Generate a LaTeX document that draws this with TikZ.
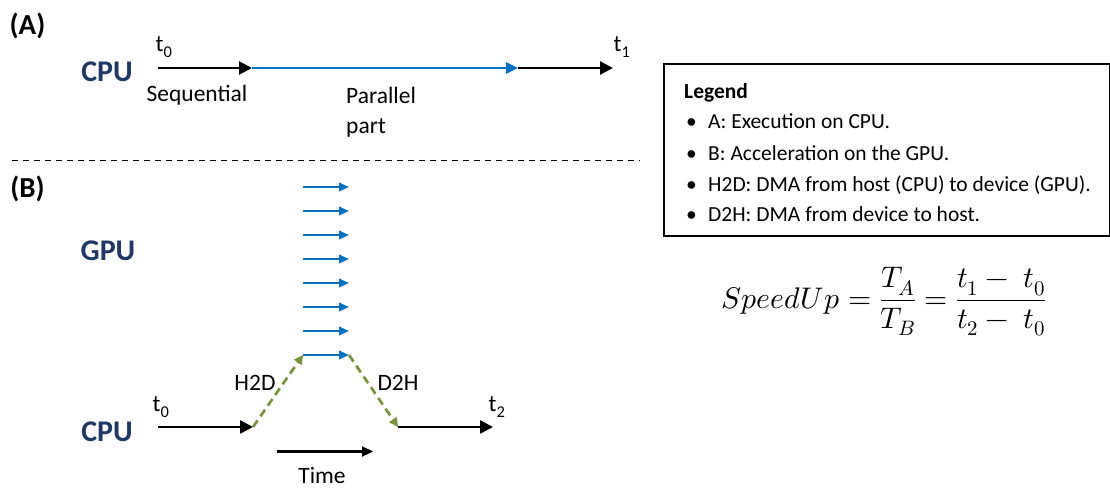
\documentclass[tikz,border=0pt]{standalone}
\usepackage{fontspec}
\usepackage{unicode-math}
\setmainfont{Carlito}
\setmathfont{Latin Modern Math}
\usetikzlibrary{arrows.meta}

\definecolor{navy}{HTML}{1F3864}
\definecolor{runblue}{HTML}{0070C0}
\definecolor{dmagreen}{HTML}{77933C}

\begin{document}
\begin{tikzpicture}[x=1pt,y=-1pt,
  panel/.style={font=\fontsize{29}{31}\selectfont\bfseries, inner sep=0pt},
  proc/.style={font=\fontsize{30}{32}\selectfont\bfseries, text=navy, inner sep=0pt},
  lbl/.style={font=\fontsize{23.5}{28}\selectfont, inner sep=0pt},
  tlbl/.style={font=\fontsize{23.5}{28}\selectfont, inner sep=0pt},
  legtxt/.style={font=\fontsize{21.5}{24}\selectfont, inner sep=0pt, anchor=base west},
  seq/.style={line width=2.5pt, -{Triangle[length=13pt,width=13pt]}},
  par/.style={line width=2.5pt, runblue, -{Triangle[length=12pt,width=11pt]}},
  thread/.style={line width=2.2pt, runblue, -{Triangle[length=10pt,width=8.5pt]}},
  dma/.style={line width=2.7pt, dmagreen, dash pattern=on 8pt off 5pt, -{Triangle[length=9pt,width=9pt]}},
  timeax/.style={line width=2.2pt, -{Triangle[length=11pt,width=10pt]}}
]
\useasboundingbox (0,0) rectangle (1110,487);

% ---------- (A) CPU only ----------
\node[panel] (pa) at (27.5,26) {(A)};
\node[proc] (cpuA) at (107,72) {CPU};
\coordinate (a0) at (158,68);
\coordinate (a1) at (252,68);
\coordinate (a2) at (518,68);
\coordinate (a3) at (613,68);
\draw[seq] (a0) -- (a1);
\draw[par] (a1) -- (a2);
\draw[seq] (a2) -- (a3);
\node[tlbl] (t0A) at (164,47) {t\textsubscript{0}};
\node[tlbl] (t1A) at (622,47) {t\textsubscript{1}};
\node[lbl] (seqlbl) at (197,95) {Sequential};
\node[lbl, anchor=west] (parlbl) at (346,95) {Parallel};
\node[lbl, anchor=west] (partlbl) at (346,128) {part};

% ---------- separator ----------
\coordinate (s0) at (12,160);
\coordinate (s1) at (640,160);
\draw[line width=1pt, dash pattern=on 6pt off 5pt] (s0) -- (s1);

% ---------- (B) CPU + GPU ----------
\node[panel] (pb) at (27.5,189) {(B)};
\node[proc] (gpu) at (108,251) {GPU};
\node[proc] (cpuB) at (107,432) {CPU};

\foreach \i/\yy in {1/187,2/211,3/235,4/259,5/283,6/307,7/331,8/355}{
  \coordinate (gs\i) at (303,\yy);
  \coordinate (ge\i) at (349,\yy);
  \draw[thread] (gs\i) -- (ge\i);
}

\coordinate (b0) at (158,427);
\coordinate (b1) at (253,427);
\coordinate (b2) at (398,427);
\coordinate (b3) at (493,427);
\draw[seq] (b0) -- (b1);
\draw[dma] (b1) -- (gs8);
\draw[dma] (ge8) -- (b2);
\draw[seq] (b2) -- (b3);

\node[tlbl] (t0B) at (161,407) {t\textsubscript{0}};
\node[tlbl] (t2B) at (497,407) {t\textsubscript{2}};
\node[lbl] (h2d) at (255,383) {H2D};
\node[lbl] (d2h) at (398,383) {D2H};

\coordinate (ts) at (277,451.5);
\coordinate (te) at (373,451.5);
\draw[timeax] (ts) -- (te);
\node[lbl] (time) at (322,475) {Time};

% ---------- legend ----------
\node[draw, line width=1.5pt, minimum width=446pt, minimum height=172pt,
      anchor=north west, inner sep=0pt] (legend) at (663,63) {};
\node[legtxt, font=\fontsize{21.5}{24}\selectfont\bfseries] (legt) at (684,98) {Legend};
\foreach \i/\yy/\txt in {1/128/{A: Execution on CPU.},
                         2/160/{B: Acceleration on the GPU.},
                         3/191/{H2D: DMA from host (CPU) to device (GPU).},
                         4/221/{D2H: DMA from device to host.}}{
  \node[legtxt] (bul\i) at (686,\yy) {\textbullet};
  \node[legtxt] (leg\i) at (708,\yy) {\txt};
}

% ---------- speed-up formula ----------
\node[inner sep=0pt, font=\fontsize{29.8}{34}\selectfont] (speedup) at (884,302)
  {$\displaystyle SpeedUp=\frac{T_A}{T_B}=\frac{t_1-\;t_0}{t_2-\;t_0}$};
\end{tikzpicture}
\end{document}
